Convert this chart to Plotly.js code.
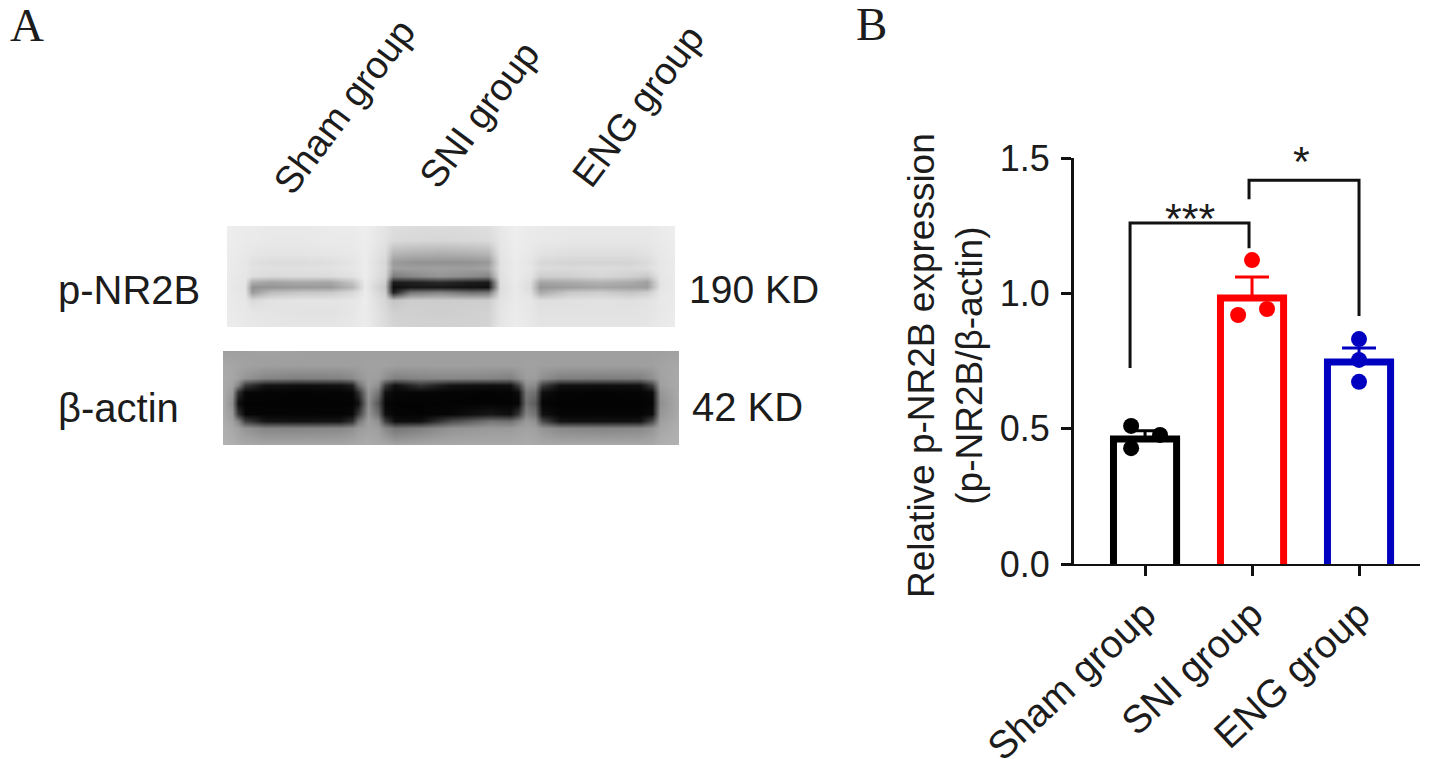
<!DOCTYPE html>
<html>
<head>
<meta charset="utf-8">
<script src="https://cdn.plot.ly/plotly-3.0.1.min.js"></script>
<style>body { margin: 0; background: #fff; }</style>
</head>
<body>
<div id="chart"></div>
<script>
// bar chart values (panel B)
const groups = ['Sham group', 'SNI group', 'ENG group'];
const groupPos = [0, 1, 2];
const means = [0.462, 0.983, 0.746];
const sem = [0.03, 0.077, 0.052];
const colors = ['#000000', '#ff0000', '#0000c0'];
const pointX = [[-0.13, 0.14, -0.13], [1, 0.87, 1.14], [2, 2, 2]];
const pointY = [[0.51, 0.477, 0.428], [1.123, 0.92, 0.942], [0.831, 0.754, 0.673]];

// significance brackets
const bracket1X = [-0.14, -0.14, 0.972, 0.972];
const bracket1Y = [0.724, 1.26, 1.26, 1.167];
const bracket2X = [0.972, 0.972, 2, 2];
const bracket2Y = [1.348, 1.418, 1.418, 0.916];

// western blot strips, grey levels (panel A)
const pX = [227, 245, 252, 270, 300, 330, 352, 365, 385, 393, 410, 440, 470, 488, 500, 515, 530, 540, 570, 600, 630, 647, 660, 675];
const pY = [226, 240, 254, 262, 268, 276, 282, 287, 292, 300, 312, 327];
const pGrey = [
  [238, 235, 235, 233, 233, 235, 235, 238, 228, 222, 220, 220, 220, 222, 232, 238, 235, 234, 232, 232, 232, 232, 235, 238],
  [237, 234, 234, 232, 232, 234, 234, 237, 226, 218, 216, 214, 216, 218, 230, 237, 234, 233, 231, 231, 231, 231, 234, 237],
  [236, 232, 230, 228, 228, 230, 232, 236, 220, 180, 175, 172, 175, 180, 228, 236, 232, 226, 222, 222, 222, 226, 232, 236],
  [235, 231, 224, 220, 220, 222, 228, 236, 215, 155, 148, 146, 146, 152, 225, 235, 228, 216, 212, 212, 212, 218, 230, 235],
  [235, 231, 226, 224, 224, 226, 230, 236, 216, 160, 158, 160, 158, 165, 226, 235, 230, 220, 218, 220, 218, 222, 231, 235],
  [235, 230, 222, 218, 220, 220, 226, 236, 214, 125, 135, 150, 140, 132, 224, 235, 228, 205, 208, 214, 208, 200, 230, 235],
  [234, 228, 172, 162, 168, 166, 195, 235, 205, 28, 30, 42, 28, 26, 222, 234, 222, 165, 170, 178, 170, 160, 228, 234],
  [234, 226, 145, 148, 154, 154, 182, 234, 198, 12, 22, 24, 18, 16, 220, 234, 220, 150, 158, 165, 160, 158, 228, 234],
  [234, 228, 155, 188, 198, 200, 215, 235, 205, 30, 115, 130, 110, 115, 222, 234, 224, 170, 200, 205, 195, 205, 230, 234],
  [234, 231, 218, 226, 228, 228, 230, 236, 214, 195, 205, 205, 205, 205, 226, 234, 230, 222, 224, 226, 224, 226, 232, 234],
  [235, 232, 230, 228, 226, 226, 230, 236, 218, 208, 208, 206, 208, 210, 228, 235, 231, 226, 226, 226, 226, 228, 232, 235],
  [236, 233, 232, 230, 230, 230, 232, 236, 220, 212, 210, 210, 210, 212, 230, 236, 232, 228, 228, 228, 228, 230, 233, 236]
];
const aX = [223, 232, 238, 245, 265, 300, 340, 352, 358, 368, 378, 385, 395, 420, 450, 490, 510, 518, 526, 535, 542, 560, 600, 640, 652, 660, 679];
const aY = [351, 365, 378, 385, 392, 403, 414, 421, 428, 445];
const aGrey = [
  [150, 150, 150, 150, 152, 150, 150, 150, 150, 150, 150, 150, 150, 150, 150, 150, 150, 150, 150, 150, 150, 150, 150, 150, 150, 150, 152],
  [158, 156, 154, 152, 150, 150, 150, 150, 150, 152, 152, 152, 150, 150, 150, 150, 150, 150, 152, 152, 150, 150, 150, 150, 150, 154, 158],
  [160, 156, 150, 140, 125, 120, 122, 130, 140, 150, 148, 135, 120, 125, 128, 125, 120, 135, 148, 148, 135, 120, 118, 120, 135, 152, 160],
  [160, 152, 125, 55, 18, 14, 16, 30, 100, 150, 135, 55, 14, 50, 18, 14, 16, 60, 135, 130, 60, 16, 14, 16, 60, 150, 160],
  [160, 145, 45, 6, 4, 3, 4, 6, 45, 142, 110, 16, 6, 5, 4, 3, 4, 12, 115, 105, 14, 4, 3, 4, 10, 142, 160],
  [160, 135, 14, 3, 3, 3, 3, 3, 14, 135, 80, 5, 3, 3, 3, 3, 3, 5, 105, 85, 4, 3, 3, 3, 4, 135, 160],
  [160, 145, 50, 6, 4, 4, 4, 8, 55, 142, 105, 14, 4, 3, 6, 22, 14, 50, 125, 110, 16, 4, 4, 4, 12, 142, 160],
  [162, 152, 125, 60, 20, 18, 20, 45, 110, 150, 135, 60, 12, 14, 70, 110, 105, 125, 145, 135, 70, 18, 16, 18, 70, 150, 162],
  [165, 158, 150, 140, 125, 125, 128, 135, 145, 152, 148, 128, 110, 120, 138, 145, 145, 150, 152, 150, 140, 128, 125, 128, 140, 155, 165],
  [168, 165, 162, 160, 158, 158, 158, 160, 160, 162, 160, 160, 155, 158, 160, 160, 160, 160, 162, 160, 160, 160, 160, 160, 160, 165, 168]
];

const W = 1441, H = 759;
const fx = p => p / W;
const fy = p => 1 - p / H;
const ink = '#1c1c1c';
const sans = '"Liberation Sans", Arial, sans-serif';
// bars start below the axis so their bottom edge is clipped, only the sides reach the axis
const barBase = -0.05;

const traces = [];
const greyScale = [[0, '#000000'], [1, '#ffffff']];
traces.push({ type: 'heatmap', x: pX, y: pY, z: pGrey, xaxis: 'x2', yaxis: 'y2', zmin: 0, zmax: 255, zsmooth: 'best', colorscale: greyScale, showscale: false, hoverinfo: 'skip' });
traces.push({ type: 'heatmap', x: aX, y: aY, z: aGrey, xaxis: 'x3', yaxis: 'y3', zmin: 0, zmax: 240, zsmooth: 'best', colorscale: greyScale, showscale: false, hoverinfo: 'skip' });

groups.forEach((g, i) => {
    traces.push({
        type: 'bar', x: [groupPos[i]], y: [means[i] - barBase], base: barBase, width: 0.59, name: g,
        marker: { color: 'rgba(255,255,255,0)', line: { color: colors[i], width: 7 } },
        error_y: { type: 'data', symmetric: false, array: [sem[i]], arrayminus: [0], color: colors[i], thickness: 3, width: 17 }
    });
    traces.push({
        type: 'scatter', mode: 'markers', x: pointX[i], y: pointY[i], name: g,
        marker: { color: colors[i], size: 16 }
    });
});

[[bracket1X, bracket1Y], [bracket2X, bracket2Y]].forEach(b => {
    traces.push({ type: 'scatter', mode: 'lines', x: b[0], y: b[1], line: { color: '#111', width: 3 }, hoverinfo: 'skip' });
});

const label = (text, x, y, size, extra) => Object.assign({
    text: text, x: fx(x), y: fy(y), xref: 'paper', yref: 'paper', showarrow: false,
    xanchor: 'center', yanchor: 'middle', font: { family: sans, size: size, color: ink }
}, extra || {});

const annotations = [
    label('A', 27, 25, 47, { font: { family: '"Liberation Serif", serif', size: 47, color: ink } }),
    label('B', 871, 24, 47, { font: { family: '"Liberation Serif", serif', size: 47, color: ink } }),
    label('Sham group', 344, 107, 38, { textangle: -53 }),
    label('SNI group', 479, 115, 38, { textangle: -53 }),
    label('ENG group', 638, 106, 38, { textangle: -53 }),
    label('p-NR2B', 129, 290, 40),
    label('β-actin', 118, 408, 40),
    label('190 KD', 754, 290, 39),
    label('42 KD', 747, 407, 40),
    label('***', 1190, 218, 43),
    label('*', 1301, 161, 43),
    label('Relative p-NR2B expression<br>(p-NR2B/β-actin)', 945, 366, 37, { textangle: -90 })
];

const layout = {
    width: W, height: H, autosize: false,
    margin: { l: 0, r: 0, t: 0, b: 0 },
    paper_bgcolor: '#fff', plot_bgcolor: 'rgba(0,0,0,0)',
    showlegend: false, barmode: 'overlay', hovermode: false,
    font: { family: sans, color: ink },
    xaxis: {
        domain: [fx(1074), fx(1420)], range: [-0.664, 2.57], anchor: 'y',
        tickvals: groupPos, ticktext: groups, tickangle: -43,
        ticks: 'outside', ticklen: 10, tickwidth: 2.5, tickcolor: '#111',
        showline: true, linewidth: 2, linecolor: '#111', showgrid: false, zeroline: false,
        tickfont: { family: sans, size: 39, color: ink }
    },
    yaxis: {
        domain: [fy(564), fy(158)], range: [0, 1.5], anchor: 'x',
        tickvals: [0, 0.5, 1, 1.5], ticktext: ['0.0', '0.5', '1.0', '1.5'],
        ticks: 'outside', ticklen: 10, tickwidth: 2.5, tickcolor: '#111', ticklabelstandoff: 4,
        showline: true, linewidth: 3, linecolor: '#111', showgrid: false, zeroline: false,
        tickfont: { family: sans, size: 36, color: ink }
    },
    xaxis2: { domain: [fx(227), fx(675)], range: [227, 675], anchor: 'y2', visible: false },
    yaxis2: { domain: [fy(327), fy(226)], range: [327, 226], anchor: 'x2', visible: false },
    xaxis3: { domain: [fx(223), fx(679)], range: [223, 679], anchor: 'y3', visible: false },
    yaxis3: { domain: [fy(445), fy(351)], range: [445, 351], anchor: 'x3', visible: false },
    annotations: annotations
};

Plotly.newPlot('chart', traces, layout, { displayModeBar: false, responsive: false });
</script>
</body>
</html>
